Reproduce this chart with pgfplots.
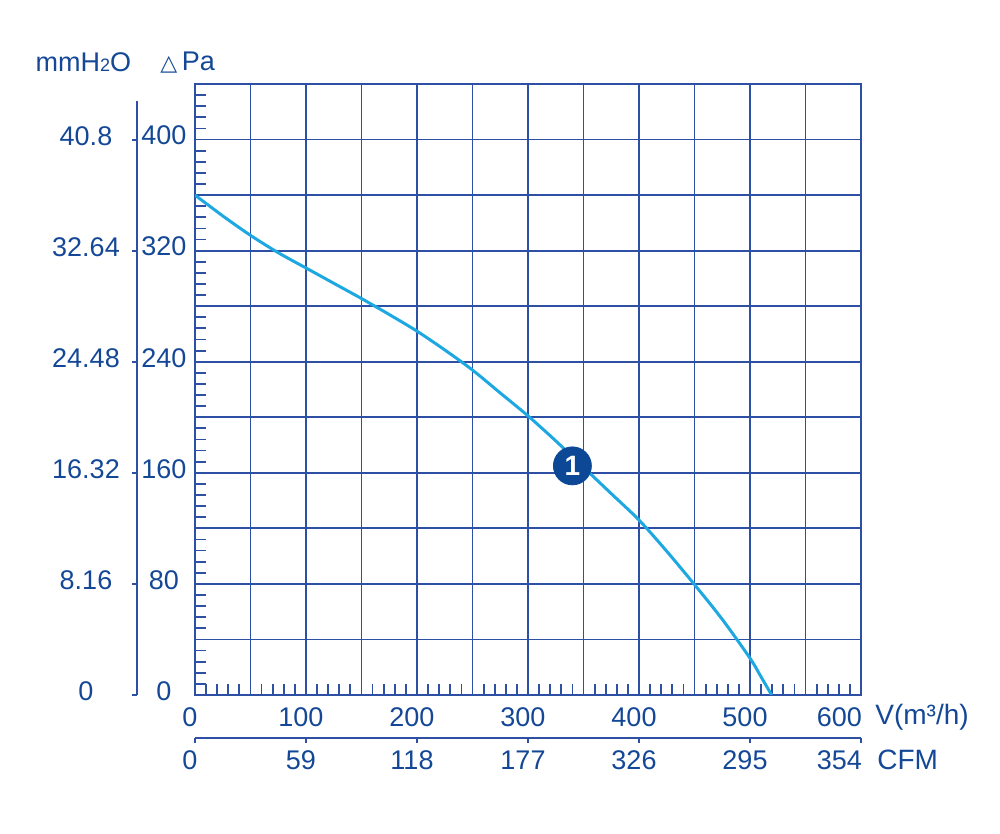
\documentclass[border=0pt]{standalone}
\usepackage{pgfplots}
\pgfplotsset{compat=1.18}
\usepackage{fontspec}
\setmainfont{Liberation Sans}
\newfontfamily\symfont{DejaVu Sans}
\definecolor{gridblue}{RGB}{45,80,165}
\definecolor{txtblue}{RGB}{20,72,150}
\definecolor{curvec}{RGB}{30,168,225}
\definecolor{dotc}{RGB}{12,72,150}
\begin{document}
\fontsize{13.5}{16}\selectfont
\begin{tikzpicture}
\useasboundingbox (-97.5pt,-69.5pt) rectangle (402.5pt,347.5pt);
% main axis
\begin{axis}[
  at={(0pt,0pt)}, anchor=south west,
  scale only axis, width=333pt, height=305.5pt,
  xmin=0, xmax=600, ymin=0, ymax=440,
  axis line style={gridblue, line width=1pt},
  grid=major,
  major grid style={gridblue, line width=0.9pt},
  xtick={0,50,...,600},
  xticklabels={0,,100,,200,,300,,400,,500,,\makebox[0pt][r]{600\hspace{-3pt}}},
  ytick={0,40,...,440},
  yticklabels={0,,80,,160,,240,,320,,400,},
  minor x tick num=4, minor y tick num=4,
  tick align=inside, tick pos=left,
  major tick length=0pt, minor tick length=5.5pt,
  minor tick style={gridblue, line width=0.9pt},
  xticklabel style={anchor=center, yshift=-11pt, xshift=-2.5pt, text=txtblue, font=\fontsize{13.5}{16}\selectfont},
  yticklabel style={anchor=center, xshift=-15.5pt, yshift=2pt, text=txtblue, font=\fontsize{13.5}{16}\selectfont},
  clip mode=individual,
]
\addplot[curvec, line width=1.5pt, smooth, tension=0.5] coordinates {
  (0,360) (25,345) (50,331) (75,318.5) (100,307.5) (125,296.5) (150,285.5)
  (175,274) (200,262) (225,248.5) (250,234) (275,217.5) (300,201)
  (325,183) (350,164) (375,145) (400,126) (425,103.5) (450,79.5)
  (475,54.5) (500,26.5) (510,13) (519.5,0)
};
\addplot[only marks, mark=*, mark size=9.5pt, mark options={fill=dotc, draw=dotc},
  nodes near coords={1}, every node near coord/.style={anchor=center, text=white, font=\fontsize{14}{14}\selectfont\bfseries}]
  coordinates {(340,165)};
\node[anchor=west, text=txtblue, inner sep=0pt] at (axis cs:-144,455.5) {mmH{\fontsize{9}{9}\selectfont 2}O};
\node[anchor=west, text=txtblue, inner sep=0pt] at (axis cs:-31.5,455.5) {{\symfont\fontsize{11}{11}\selectfont △}\,Pa};
\node[anchor=west, text=txtblue, inner sep=0pt] at (axis cs:612.6,-15.9) {\fontsize{14}{16}\selectfont V(m³/h)};
\node[anchor=west, text=txtblue, inner sep=0pt] at (axis cs:614.4,-46.8) {\fontsize{14}{16}\selectfont CFM};
\end{axis}
% CFM axis
\begin{axis}[
  at={(0pt,-21.5pt)}, anchor=south west,
  scale only axis, width=333pt, height=10pt,
  xmin=0, xmax=600, ymin=0, ymax=1,
  axis x line*=bottom, hide y axis,
  axis line style={gridblue, line width=0.9pt, -},
  xtick={0,100,...,600},
  xticklabels={0,59\hspace{14pt},118,177,326,295,\makebox[0pt][r]{354\hspace{-3pt}}},
  tick align=outside, major tick length=2.5pt,
  major tick style={gridblue, line width=0.9pt},
  xticklabel style={anchor=center, yshift=-8.5pt, xshift=-2.5pt, text=txtblue, font=\fontsize{13.5}{16}\selectfont},
]
\end{axis}
% mmH2O axis
\begin{axis}[
  at={(-29pt,0pt)}, anchor=south west,
  scale only axis, width=1pt, height=297pt,
  xmin=0, xmax=1, ymin=0, ymax=428,
  axis y line*=left, hide x axis,
  axis line style={gridblue, line width=0.9pt, -},
  ytick={0,80,...,400},
  yticklabels={0,8.16,16.32,24.48,32.64,40.8},
  tick align=outside, major tick length=2.5pt,
  major tick style={gridblue, line width=0.9pt},
  yticklabel style={anchor=center, xshift=-23pt, yshift=2pt, text=txtblue, font=\fontsize{13.5}{16}\selectfont},
]
\end{axis}
\end{tikzpicture}
\end{document}
